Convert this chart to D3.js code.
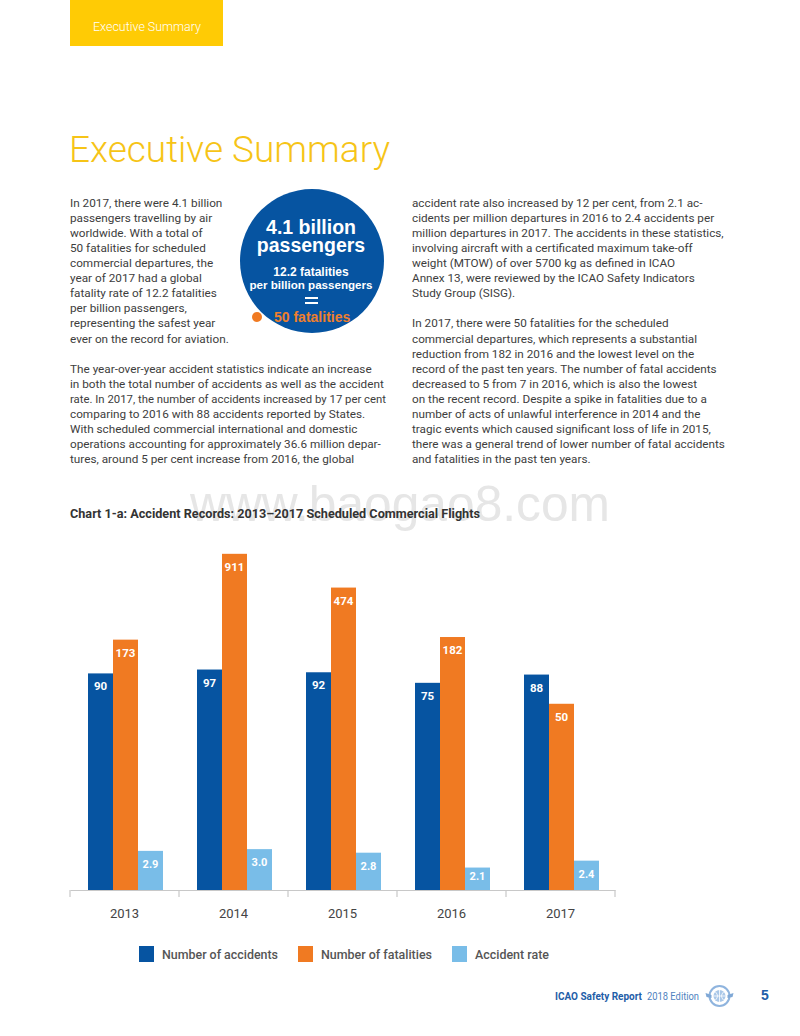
<!DOCTYPE html>
<html>
<head>
<meta charset="utf-8">
<script src="https://cdn.jsdelivr.net/npm/d3@7"></script>
<style>
  html, body { margin: 0; padding: 0; background: #fff; }
  svg { display: block; }
</style>
</head>
<body>
<svg id="page" width="800" height="1036"></svg>
<script>
// ---------------- DATA ----------------
const years = ["2013", "2014", "2015", "2016", "2017"];
const accidents = [90, 97, 92, 75, 88];
const fatalities = [173, 911, 474, 182, 50];
const accidentRate = [2.9, 3.0, 2.8, 2.1, 2.4];
const seriesNames = ["Number of accidents", "Number of fatalities", "Accident rate"];
const seriesKeys = ["accidents", "fatalities", "rate"];
const seriesColors = ["#0654a1", "#f07a22", "#79bde8"];

const chartTitle = "Chart 1-a: Accident Records: 2013\u20132017 Scheduled Commercial Flights";

const leftColumn = [
  "In 2017, there were 4.1 billion",
  "passengers travelling by air",
  "worldwide. With a total of",
  "50 fatalities for scheduled",
  "commercial departures, the",
  "year of 2017 had a global",
  "fatality rate of 12.2 fatalities",
  "per billion passengers,",
  "representing the safest year",
  "ever on the record for aviation.",
  "",
  "The year-over-year accident statistics indicate an increase",
  "in both the total number of accidents as well as the accident",
  "rate. In 2017, the number of accidents increased by 17 per cent",
  "comparing to 2016 with 88 accidents reported by States.",
  "With scheduled commercial international and domestic",
  "operations accounting for approximately 36.6 million depar-",
  "tures, around 5 per cent increase from 2016, the global"
];
const rightColumn = [
  "accident rate also increased by 12 per cent, from 2.1 ac-",
  "cidents per million departures in 2016 to 2.4 accidents per",
  "million departures in 2017. The accidents in these statistics,",
  "involving aircraft with a certificated maximum take-off",
  "weight (MTOW) of over 5700 kg as defined in ICAO",
  "Annex 13, were reviewed by the ICAO Safety Indicators",
  "Study Group (SISG).",
  "",
  "In 2017, there were 50 fatalities for the scheduled",
  "commercial departures, which represents a substantial",
  "reduction from 182 in 2016 and the lowest level on the",
  "record of the past ten years. The number of fatal accidents",
  "decreased to 5 from 7 in 2016, which is also the lowest",
  "on the recent record. Despite a spike in fatalities due to a",
  "number of acts of unlawful interference in 2014 and the",
  "tragic events which caused significant loss of life in 2015,",
  "there was a general trend of lower number of fatal accidents",
  "and fatalities in the past ten years."
];

// ---------------- PAGE ----------------
const svg = d3.select("#page");
const FONT = "Roboto, 'Liberation Sans', sans-serif";
const ARIAL = "'Liberation Sans', Arial, sans-serif";

// Header tab
svg.append("rect").attr("x", 70).attr("y", 0).attr("width", 153).attr("height", 46).attr("fill", "#ffcb05");
svg.append("text").attr("x", 93).attr("y", 30.5)
  .attr("font-family", FONT).attr("font-weight", 300).attr("font-size", 13)
  .attr("fill", "#fff").attr("textLength", 108).attr("lengthAdjust", "spacingAndGlyphs")
  .text("Executive Summary");

// Big title
svg.append("text").attr("x", 69).attr("y", 162)
  .attr("font-family", FONT).attr("font-weight", 300).attr("font-size", 37)
  .attr("fill", "#f6c417").attr("textLength", 321).attr("lengthAdjust", "spacingAndGlyphs")
  .text("Executive Summary");

// Body columns
function column(lines, x, refIndex, refWidth) {
  const g = svg.append("g").attr("font-family", FONT).attr("fill", "#3d3d3d");
  const probe = g.append("text").attr("font-size", 12).text(lines[refIndex]);
  const w = probe.node().getComputedTextLength();
  probe.remove();
  const size = 12 * refWidth / w;
  g.attr("font-size", size);
  g.selectAll("text").data(lines).join("text")
    .attr("x", x)
    .attr("y", (d, i) => 207 + i * 15.06)
    .text(d => d);
  return g;
}
const leftG = column(leftColumn, 70, 11, 302);
leftG.selectAll("text").filter((d, i) => i === 13)
  .attr("textLength", 316).attr("lengthAdjust", "spacingAndGlyphs");
column(rightColumn, 412, 16, 313);

// Circle call-out
const cg = svg.append("g");
cg.append("circle").attr("cx", 312).attr("cy", 261).attr("r", 72).attr("fill", "#0654a1");
cg.append("text").attr("x", 311).attr("y", 234).attr("text-anchor", "middle")
  .attr("font-family", ARIAL).attr("font-weight", 700).attr("font-size", 19.5).attr("fill", "#fff")
  .text("4.1 billion");
cg.append("text").attr("x", 311).attr("y", 252).attr("text-anchor", "middle")
  .attr("font-family", ARIAL).attr("font-weight", 700).attr("font-size", 19.5).attr("fill", "#fff")
  .text("passengers");
cg.append("text").attr("x", 311).attr("y", 276).attr("text-anchor", "middle")
  .attr("font-family", ARIAL).attr("font-weight", 700).attr("font-size", 12).attr("fill", "#fff")
  .text("12.2 fatalities");
cg.append("text").attr("x", 311).attr("y", 289).attr("text-anchor", "middle")
  .attr("font-family", ARIAL).attr("font-weight", 700).attr("font-size", 11.6).attr("fill", "#fff")
  .text("per billion passengers");
cg.append("rect").attr("x", 305).attr("y", 297).attr("width", 13).attr("height", 2).attr("fill", "#fff");
cg.append("rect").attr("x", 305).attr("y", 302).attr("width", 13).attr("height", 2).attr("fill", "#fff");
cg.append("circle").attr("cx", 257).attr("cy", 317).attr("r", 5).attr("fill", "#f07a22");
cg.append("text").attr("x", 274).attr("y", 322)
  .attr("font-family", ARIAL).attr("font-weight", 700).attr("font-size", 14).attr("fill", "#ef7f2c")
  .text("50 fatalities");

// Watermark
svg.append("text").attr("x", 190).attr("y", 521)
  .attr("font-family", ARIAL).attr("font-size", 50).attr("fill", "#e6e6e6")
  .attr("textLength", 420).attr("lengthAdjust", "spacingAndGlyphs")
  .text("www.baogao8.com");

// Chart title
svg.append("text").attr("x", 70).attr("y", 518)
  .attr("font-family", FONT).attr("font-weight", 700).attr("font-size", 12.5).attr("fill", "#333")
  .attr("textLength", 410).attr("lengthAdjust", "spacingAndGlyphs")
  .text(chartTitle);

// ---------------- CHART ----------------
const baseY = 890;
const rows = years.map((yr, i) => ({
  year: yr,
  accidents: accidents[i],
  fatalities: fatalities[i],
  rate: accidentRate[i]
}));

const x0 = d3.scaleBand().domain(years).range([70, 615]).padding(0);
const x1 = d3.scaleBand().domain(seriesKeys).range([18, 93]).padding(0);
const y = d3.scaleLog().domain([1.36, 1000]).range([baseY, 549]);
const color = d3.scaleOrdinal().domain(seriesKeys).range(seriesColors);
const fmt = { accidents: d3.format("d"), fatalities: d3.format("d"), rate: d3.format(".1f") };

const chart = svg.append("g");
const groups = chart.selectAll("g.year").data(rows).join("g")
  .attr("class", "year")
  .attr("transform", d => `translate(${x0(d.year)},0)`);

const cells = groups.selectAll("g.bar")
  .data(d => seriesKeys.map(k => ({ key: k, value: d[k] })))
  .join("g").attr("class", "bar");

cells.append("rect")
  .attr("x", d => x1(d.key))
  .attr("y", d => y(d.value))
  .attr("width", x1.bandwidth())
  .attr("height", d => baseY - y(d.value))
  .attr("fill", d => color(d.key));

cells.append("text")
  .attr("x", d => x1(d.key) + x1.bandwidth() / 2)
  .attr("y", d => Math.min(y(d.value) + 17, baseY - 10))
  .attr("text-anchor", "middle")
  .attr("font-family", FONT).attr("font-weight", 700)
  .attr("font-size", d => d.key === "rate" ? 11 : 11.5)
  .attr("fill", "#fff")
  .text(d => fmt[d.key](d.value));

// Axis
const axisG = chart.append("g").attr("transform", `translate(0,${baseY})`);
axisG.call(d3.axisBottom(x0).tickSize(0).tickPadding(19));
axisG.select(".domain").attr("stroke", "#c8c8c8").attr("stroke-width", 1.2);
axisG.selectAll(".tick text")
  .attr("font-family", FONT).attr("font-size", 13).attr("fill", "#444");
const boundaries = years.map(yr => x0(yr)).concat([x0.range()[1]]);
axisG.selectAll("line.bound").data(boundaries).join("line")
  .attr("class", "bound")
  .attr("x1", d => d).attr("x2", d => d)
  .attr("y1", 0).attr("y2", 7)
  .attr("stroke", "#c8c8c8").attr("stroke-width", 1.2);

// Legend
const legendX = [139, 298, 452];
const legendW = [116, 111, 74];
const lg = svg.append("g");
seriesKeys.forEach((k, i) => {
  lg.append("rect").attr("x", legendX[i]).attr("y", 946).attr("width", 15).attr("height", 16)
    .attr("fill", color(k));
  lg.append("text").attr("x", legendX[i] + 23).attr("y", 958.5)
    .attr("font-family", FONT).attr("font-weight", 500).attr("font-size", 12.5).attr("fill", "#555")
    .attr("textLength", legendW[i]).attr("lengthAdjust", "spacingAndGlyphs")
    .text(seriesNames[i]);
});

// Footer
svg.append("text").attr("x", 555).attr("y", 999.5)
  .attr("font-family", FONT).attr("font-weight", 700).attr("font-size", 11).attr("fill", "#1f5ea8")
  .attr("textLength", 87).attr("lengthAdjust", "spacingAndGlyphs")
  .text("ICAO Safety Report");
svg.append("text").attr("x", 647).attr("y", 999.5)
  .attr("font-family", FONT).attr("font-weight", 400).attr("font-size", 11).attr("fill", "#4f82c0")
  .attr("textLength", 52).attr("lengthAdjust", "spacingAndGlyphs")
  .text("2018 Edition");
// emblem
const em = svg.append("g").attr("transform", "translate(719.5,996)");
em.append("circle").attr("r", 10).attr("fill", "none").attr("stroke", "#8fb4de").attr("stroke-width", 2);
em.append("circle").attr("r", 6).attr("fill", "#a9c7e8");
em.append("path").attr("d", "M-6,0 H6 M0,-6 V6 M-4,-4 Q0,0 -4,4 M4,-4 Q0,0 4,4")
  .attr("stroke", "#ffffff").attr("stroke-width", 0.8).attr("fill", "none");
em.append("path").attr("d", "M-8,-1 L-14,-3 L-13,1 L-8,2 Z M8,-1 L14,-3 L13,1 L8,2 Z")
  .attr("fill", "#7fa8d6");
svg.append("text").attr("x", 765).attr("y", 1000)
  .attr("text-anchor", "middle")
  .attr("font-family", ARIAL).attr("font-weight", 700).attr("font-size", 14).attr("fill", "#1f5ea8")
  .text("5");
</script>
</body>
</html>
